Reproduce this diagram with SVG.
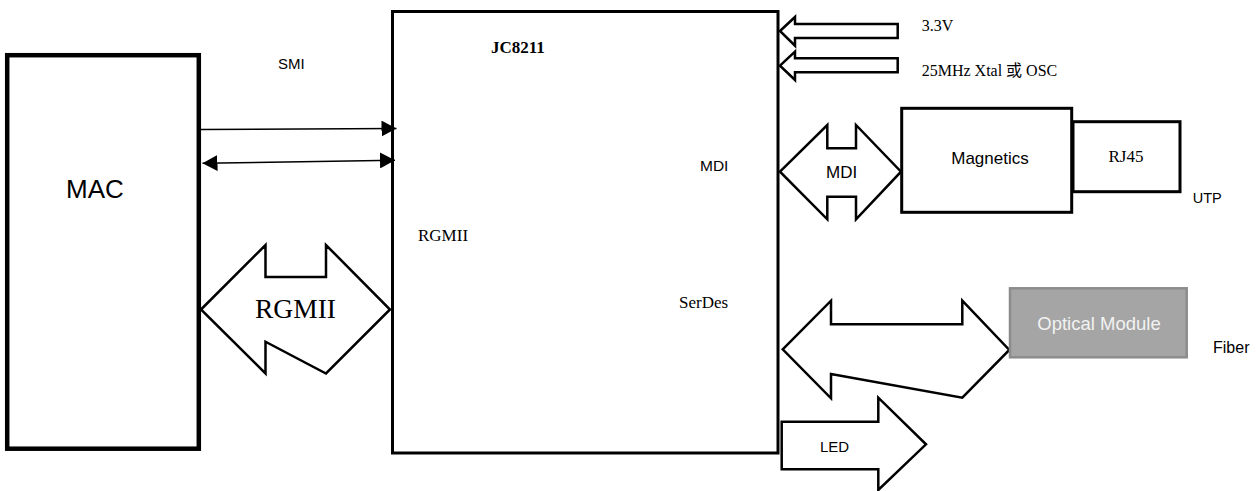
<svg xmlns="http://www.w3.org/2000/svg" width="1260" height="491" viewBox="0 0 1260 491">
<style>
.box{fill:#fff;stroke:#000;stroke-width:3}
.blk{fill:#fff;stroke:#000;stroke-width:2.5;stroke-linejoin:miter}
.ln{stroke:#000;stroke-width:1.4;fill:none}
.serif{font-family:"Liberation Serif","Noto Sans CJK SC",serif;fill:#000}
.sans{font-family:"Liberation Sans","Noto Sans",sans-serif;fill:#000}
</style>
<defs>
<marker id="ah" viewBox="0 0 15 16" refX="15" refY="8" markerWidth="15" markerHeight="16" markerUnits="userSpaceOnUse" orient="auto-start-reverse">
<path d="M0,0 L15,8 L0,16 z" fill="#000"/>
</marker>
</defs>
<rect width="1260" height="491" fill="#fff"/>

<g id="mac">
<rect x="7.2" y="55.2" width="191.6" height="393.5" fill="#fff" stroke="#000" stroke-width="4.5"/>
<text class="sans" x="95" y="198" font-size="26" text-anchor="middle">MAC</text>
</g>

<g id="jc8211">
<rect class="box" x="392.5" y="11.5" width="385.5" height="441.5"/>
<text class="serif" x="491" y="53" font-size="17" font-weight="bold">JC8211</text>
<text class="serif" x="418" y="240.5" font-size="17">RGMII</text>
<text class="serif" x="679" y="307.5" font-size="17">SerDes</text>
<text class="sans" x="700" y="171" font-size="15.5">MDI</text>
</g>

<g id="connectors">
<line class="ln" x1="201" y1="129.5" x2="396.5" y2="128.5" marker-end="url(#ah)"/>
<line class="ln" x1="202.5" y1="163.3" x2="395" y2="160.2" marker-start="url(#ah)" marker-end="url(#ah)"/>
<g id="rgmii-bus">
<polygon class="blk" points="201,309.5 265.5,245 265.5,277 326,277 326,245 390,309.5 326,373.5 265.5,341.7 265.5,373.5"/>
<text class="serif" x="295.5" y="318" font-size="27.5" text-anchor="middle">RGMII</text>
</g>
<g id="power">
<polygon class="blk" points="780,31 795,17 795,24 897.7,24 897.7,38 795,38 795,45.7"/>
<polygon class="blk" points="780,65.7 795,51.7 795,58.3 897.7,58.3 897.7,72.3 795,72.3 795,80"/>
</g>
<g id="mdi-bus">
<polygon class="blk" points="780,171.7 827.3,125 827.3,148.3 856,148.3 856,125 901,171.7 856,219.3 856,196.7 827.3,196.7 827.3,219.3"/>
<text class="sans" x="841.7" y="178" font-size="17" text-anchor="middle">MDI</text>
</g>
<g id="serdes-bus">
<polygon class="blk" points="782.7,349.3 831,300.7 831,324.3 962.3,324.3 962.3,300.7 1009.3,350 962.3,397.7 831,374 831,398.3"/>
</g>
<g id="led-bus">
<polygon class="blk" points="781.7,421.7 878.3,421.7 878.3,397.7 926,444.3 878.3,490 878.3,469.3 781.7,469.3"/>
<text class="sans" x="820" y="451.7" font-size="15">LED</text>
</g>
</g>

<g id="labels">
<text class="sans" x="278" y="69" font-size="15">SMI</text>
<text class="serif" x="921.7" y="31" font-size="16">3.3V</text>
<text class="serif" x="921.7" y="75.5" font-size="16">25MHz Xtal 或 OSC</text>
<text class="sans" x="1192.7" y="202.7" font-size="14.5">UTP</text>
<text class="sans" x="1213" y="353.3" font-size="16">Fiber</text>
</g>

<g id="magnetics">
<rect class="box" x="901.7" y="108.3" width="170" height="104" stroke-width="2.5"/>
<text class="sans" x="990" y="164.3" font-size="17" text-anchor="middle">Magnetics</text>
</g>

<g id="rj45">
<rect class="box" x="1073" y="121.7" width="107" height="70" stroke-width="2.5"/>
<text class="serif" x="1126" y="162" font-size="17" text-anchor="middle">RJ45</text>
</g>

<g id="optical">
<rect x="1010" y="288.3" width="176.7" height="69" fill="#a5a5a5" stroke="#8c8c8c" stroke-width="2.5"/>
<text x="1099" y="330" font-size="18.5" text-anchor="middle" fill="#f2f2f2" font-family="Liberation Sans, Noto Sans, sans-serif">Optical Module</text>
</g>
</svg>
